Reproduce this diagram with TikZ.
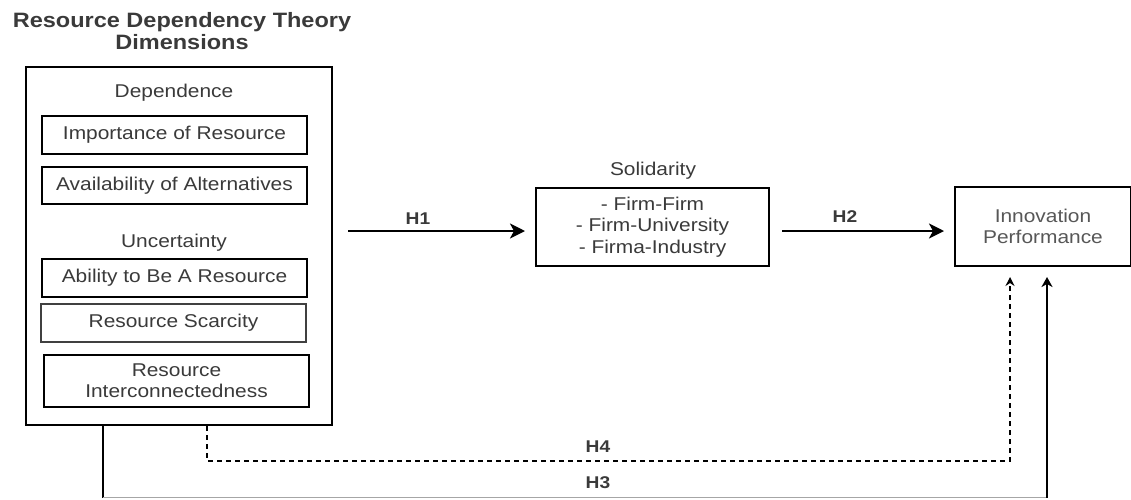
\documentclass[tikz,border=0pt]{standalone}
\usepackage{fontspec}
\setmainfont[FakeStretch=1.13]{Liberation Sans}
\usetikzlibrary{arrows.meta}
\definecolor{txt}{HTML}{3A3A3A}
\begin{document}
\begin{tikzpicture}[x=1pt,y=-1pt,
  item/.style={draw, line width=1.3pt, minimum width=265pt, inner sep=0pt, text=txt, font=\fontsize{18.5}{21}\selectfont, align=center},
  lbl/.style={text=txt, font=\fontsize{18.5}{21}\selectfont, align=center, inner sep=0pt},
  hlab/.style={text=txt, font=\bfseries\fontsize{17}{19}\selectfont, inner sep=0pt},
  arr/.style={line width=2.6pt, -{Stealth[length=15pt,width=15pt,inset=4pt]}},
  thinarr/.style={line width=1.3pt, -{Stealth[length=9pt,width=9pt,inset=3pt]}}]
\useasboundingbox (0,0) rectangle (1131,499);
\node[text=txt, font=\bfseries\fontsize{20.8}{22}\selectfont, align=center, inner sep=0pt] (title) at (182,31) {Resource Dependency Theory\\Dimensions};
\node[draw, line width=2.8pt, minimum width=306pt, minimum height=358pt, inner sep=0pt] (big) at (179,246) {};
\node[lbl] (dep) at (174,93) {Dependence};
\node[item, minimum height=38pt] (imp) at (174.5,135) {Importance of Resource};
\node[item, minimum height=37pt] (ava) at (174.5,185.5) {Availability of Alternatives};
\node[lbl] (unc) at (174,243) {Uncertainty};
\node[item, minimum height=38pt] (abi) at (174.5,278) {Ability to Be A Resource};
\node[item, minimum height=38pt, draw=black!75] (sca) at (173.5,323) {Resource Scarcity};
\node[item, minimum height=52pt] (int) at (176.5,381) {Resource\\Interconnectedness};
\node[lbl] (soltitle) at (653,171) {Solidarity};
\node[draw, line width=1.3pt, minimum width=233pt, minimum height=78pt, inner sep=0pt, text=txt, font=\fontsize{18.5}{21.5}\selectfont, align=center] (sol) at (652.5,227) {- Firm-Firm\\- Firm-University\\- Firma-Industry};
\node[draw, line width=1.3pt, minimum width=176pt, minimum height=79pt, inner sep=0pt, text=txt!85, font=\fontsize{18.5}{21}\selectfont, align=center] (inn) at (1043,226.5) {Innovation\\Performance};
\coordinate (h1s) at (348,231);
\coordinate (h1e) at (525,231);
\draw[arr] (h1s) -- (h1e);
\node[hlab] (h1) at (418,219) {H1};
\coordinate (h2s) at (782,231);
\coordinate (h2e) at (944,231);
\draw[arr] (h2s) -- (h2e);
\node[hlab] (h2) at (845,217) {H2};
\coordinate (d0) at (207,426);
\coordinate (d1) at (207,461);
\coordinate (d2) at (1010,461);
\coordinate (d3) at (1010,277);
\draw[thinarr, dashed, dash pattern=on 5pt off 4pt] (d0) -- (d1) -- (d2) -- (d3);
\node[hlab] (h4) at (598,447) {H4};
\coordinate (s0) at (103,426);
\coordinate (s1) at (103,497.5);
\coordinate (s2) at (1047,497.5);
\coordinate (s3) at (1047,277);
\draw[line width=2.4pt] (s0) -- (s1);
\draw[line width=1pt, black!35] (s1) -- (s2);
\draw[line width=2.4pt, -{Stealth[length=10pt,width=11pt,inset=3pt]}] (s2) -- (s3);
\node[hlab] (h3) at (598,483) {H3};
\end{tikzpicture}
\end{document}
